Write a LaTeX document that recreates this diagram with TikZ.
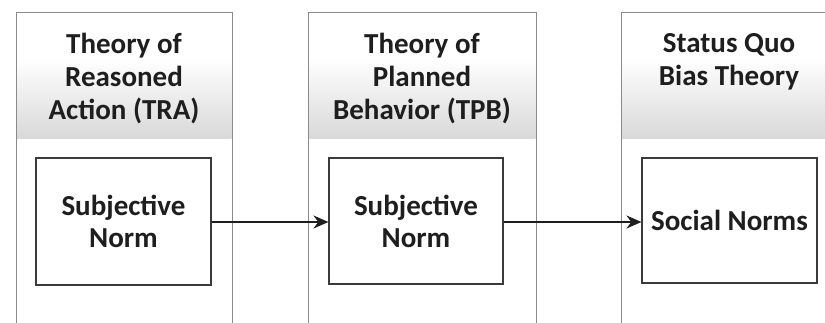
\documentclass[tikz,border=0pt]{standalone}
\usepackage{fontspec}
\setmainfont{Carlito}
\usetikzlibrary{arrows.meta}
\definecolor{inkdark}{HTML}{1E1E1E}
\definecolor{framegray}{HTML}{8A8A8A}
\definecolor{boxgray}{HTML}{3A3A3A}
\begin{document}
\begin{tikzpicture}[x=1pt,y=-1pt,
  theory/.style={draw=framegray,line width=1pt},
  band/.style={top color=white,bottom color=black!15,draw=none},
  title/.style={font=\fontsize{29}{33}\selectfont\bfseries,text=inkdark,align=center,inner sep=0pt},
  concept/.style={draw=boxgray,line width=1.1pt,font=\fontsize{29}{32}\selectfont\bfseries,
    text=inkdark,align=center,inner sep=0pt},
  link/.style={draw=inkdark,line width=1.8pt,-{Stealth[length=15pt,width=13pt]}}]
\useasboundingbox (0,0) rectangle (825,322);
\clip (0,0) rectangle (825,322);
\fill[white] (0,0) rectangle (825,322);

% shaded header bands of the three theory columns
\shade[band] (16.5,58) rectangle (231.5,138);
\shade[band] (308.5,58) rectangle (535.5,138);
\shade[band] (621.5,58) rectangle (830,138);

% theory columns (running past the lower edge)
\draw[theory] (16,340) -- (16,12) -- (232,12) -- (232,340);
\draw[theory] (308,340) -- (308,12) -- (536,12) -- (536,340);
\draw[theory] (621,340) -- (621,12) -- (840,12) -- (840,340);

% column titles
\node[title] (t1) at (124,79) {Theory of\\Reasoned\\Action (TRA)};
\node[title] (t2) at (422,79) {Theory of\\Planned\\Behavior (TPB)};
\node[title] (t3) at (729,62) {Status Quo\\Bias Theory};

% constructs
\node[concept,minimum width=175pt,minimum height=127pt] (n1) at (123.5,221.5) {Subjective\\Norm};
\node[concept,minimum width=174pt,minimum height=126pt] (n2) at (416,221) {Subjective\\Norm};
\node[concept,minimum width=175pt,minimum height=125pt] (n3) at (729.5,220.5) {Social Norms};

% links between constructs
\draw[link] (n1.east |- 0,222) -- (n2.west |- 0,222);
\draw[link] (n2.east |- 0,222) -- (n3.west |- 0,222);
\end{tikzpicture}
\end{document}
